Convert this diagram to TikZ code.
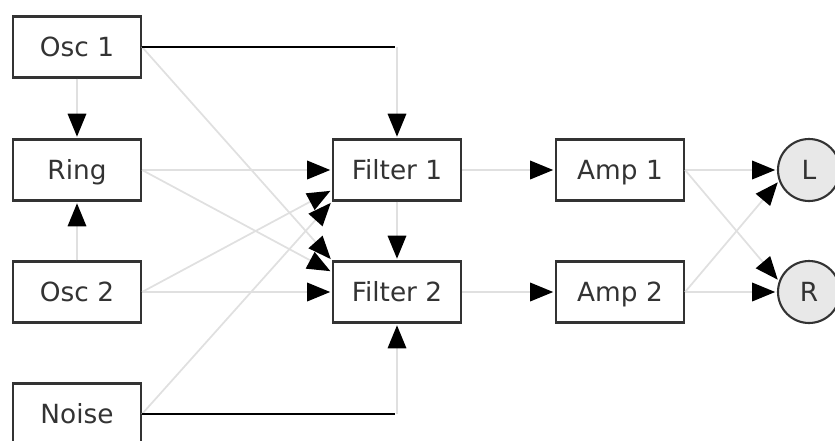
\documentclass[tikz,border=0pt]{standalone}
\usepackage{fontspec}
\setmainfont{DejaVu Sans}
\usetikzlibrary{arrows.meta}

\begin{document}
\begin{tikzpicture}[x=0.02cm,y=-0.02cm,>={Triangle[length=0.46cm,width=0.37cm,color=black,fill=black]},shorten >=1pt]
  \tikzset{block/.style={draw=black!80,line width=1.2pt,fill=white,minimum width=2.56cm,minimum height=1.22cm,inner sep=0pt,text height=1.3em,text depth=0.2em,text=black!80,font=\fontsize{15}{18}\selectfont},
    outlet/.style={circle,draw=black!80,line width=1.2pt,fill=black!9,minimum size=1.24cm,inner sep=0pt,text=black!80,font=\fontsize{15}{18}\selectfont},
    patch/.style={black!12,line width=1pt},
    wire/.style={black,line width=1.2pt}}
  \useasboundingbox (0,0) rectangle (835,440);
  \node[block] (osc1) at (77, 47) {Osc 1};
  \node[block] (ring) at (77, 170) {Ring};
  \node[block] (osc2) at (77, 292) {Osc 2};
  \node[block] (noise) at (77, 414) {Noise};
  \node[block] (filter1) at (397, 170) {Filter 1};
  \node[block] (filter2) at (397, 292) {Filter 2};
  \node[block] (amp1) at (620, 170) {Amp 1};
  \node[block] (amp2) at (620, 292) {Amp 2};
  \node[outlet] (outL) at (809, 170) {L};
  \node[outlet] (outR) at (809, 292) {R};
  \coordinate (osc1turn) at (397, 47);
  \coordinate (noiseturn) at (397, 414);
  \path[->,patch] (osc1) edge (ring);
  \path[->,patch] (osc2) edge (ring);
  \path[->,patch] (ring) edge (filter1);
  \path[->,patch] (osc2.east) edge ([yshift=-0.4cm]filter1.west);
  \path[->,patch] (noise.east) edge (filter1.south west);
  \path[->,patch] (osc1.east) edge (filter2.north west);
  \path[->,patch] (ring.east) edge ([yshift=0.4cm]filter2.west);
  \path[->,patch] (osc2) edge (filter2);
  \path[->,patch] (osc1turn) edge (filter1);
  \path[->,patch] (noiseturn) edge (filter2);
  \path[->,patch] (filter1) edge (filter2);
  \path[->,patch] (filter1) edge (amp1);
  \path[->,patch] (filter2) edge (amp2);
  \path[->,patch] (amp1) edge (outL);
  \path[->,patch] (amp1.east) edge (outR.160);
  \path[->,patch] (amp2.east) edge (outL.200);
  \path[->,patch] (amp2) edge (outR);
  \draw[wire] (osc1) -- (osc1turn);
  \draw[wire] (noise) -- (noiseturn);
\end{tikzpicture}
\end{document}
